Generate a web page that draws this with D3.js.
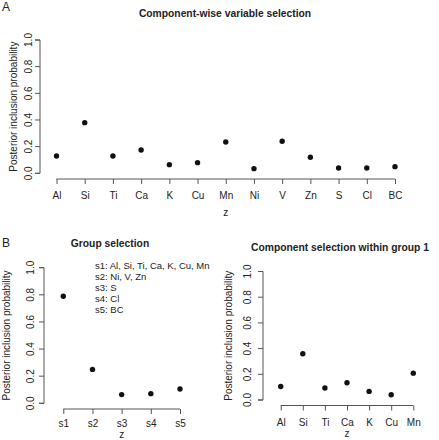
<!DOCTYPE html>
<html><head><meta charset="utf-8">
<script src="https://cdn.jsdelivr.net/npm/d3@7"></script>
<style>
body{margin:0;background:#fff;}
svg{display:block;}
text{font-family:"Liberation Sans",Arial,sans-serif;fill:#222;}
</style></head>
<body>
<svg id="c" width="439" height="440"></svg>
<script>
// Data
const compCats = ["Al","Si","Ti","Ca","K","Cu","Mn","Ni","V","Zn","S","Cl","BC"];
const compVals = [0.13,0.38,0.13,0.175,0.065,0.08,0.235,0.035,0.24,0.12,0.04,0.04,0.05];
const groupCats = ["s1","s2","s3","s4","s5"];
const groupVals = [0.79,0.25,0.064,0.071,0.106];
const g1Cats = ["Al","Si","Ti","Ca","K","Cu","Mn"];
const g1Vals = [0.105,0.36,0.093,0.134,0.067,0.041,0.209];
const yTicks = [0,0.2,0.4,0.6,0.8,1.0];
const groupLegend = ["s1: Al, Si, Ti, Ca, K, Cu, Mn","s2: Ni, V, Zn","s3: S","s4: Cl","s5: BC"];

const svg = d3.select("#c");
const axisCol = "#555";

function panel(o){
  const x = d3.scalePoint().domain(o.cats).range([o.x0,o.x1]).padding(0);
  const y = d3.scaleLinear().domain([0,1]).range([o.y0,o.y1]);
  // y axis
  const ya = svg.append("g").attr("transform",`translate(${o.ax},0)`)
    .call(d3.axisLeft(y).tickValues(yTicks).tickFormat(d3.format(".1f")).tickSize(5).tickPadding(7));
  ya.select(".domain").attr("stroke",axisCol).attr("d",`M-5,${o.y0}H0V${o.y1}H-5`);
  ya.selectAll(".tick").attr("transform","translate(0,0)");
  ya.selectAll(".tick line").attr("stroke",axisCol).attr("y1",d=>y(d)).attr("y2",d=>y(d)).attr("x2",-5);
  ya.selectAll(".tick text").each(function(d){
      d3.select(this).attr("x",null).attr("dy",null).attr("text-anchor","middle")
       .attr("font-size",10).attr("fill","#333")
       .attr("font-family","Liberation Sans, Arial, sans-serif")
       .attr("transform",`translate(${o.tlx-o.ax},${y(d)}) rotate(-90)`).attr("y",3.5);
    });
  // x axis
  const xa = svg.append("g").attr("transform",`translate(0,${o.ay})`)
    .call(d3.axisBottom(x).tickSize(5).tickPadding(8));
  xa.select(".domain").attr("stroke",axisCol).attr("d",`M${o.x0},0H${o.x1}`);
  xa.selectAll(".tick line").attr("stroke",axisCol);
  xa.selectAll(".tick text").attr("font-size",10).attr("fill","#333")
    .attr("font-family","Liberation Sans, Arial, sans-serif").attr("y",o.xly-o.ay).attr("dy",0);
  // points
  svg.append("g").selectAll("circle").data(o.vals).join("circle")
    .attr("cx",(d,i)=>x(o.cats[i])).attr("cy",d=>y(d)).attr("r",2.7).attr("fill","#111");
  // labels
  svg.append("text").attr("x",(o.x0+o.x1)/2).attr("y",o.zy).attr("text-anchor","middle")
    .attr("font-size",10).text("z");
  svg.append("text").attr("transform",`translate(${o.ylx},${(o.y0+o.y1)/2}) rotate(-90)`)
    .attr("text-anchor","middle").attr("font-size",10).attr("dy",3.5).text("Posterior inclusion probability");
  svg.append("text").attr("x",o.tx).attr("y",o.ty).attr("text-anchor","middle")
    .attr("font-size",10.3).attr("font-weight","bold").attr("fill","#111").text(o.title);
  return {x,y};
}

panel({cats:compCats, vals:compVals, x0:56.5, x1:395, y0:173.3, y1:40, ax:40, ay:179,
  tlx:28, ylx:13, xly:199, zy:216, tx:225, ty:17, title:"Component-wise variable selection"});
panel({cats:groupCats, vals:groupVals, x0:63.3, x1:180, y0:403.3, y1:267.7, ax:44, ay:409,
  tlx:30, ylx:6, xly:427, zy:438, tx:110, ty:247, title:"Group selection"});
panel({cats:g1Cats, vals:g1Vals, x0:280.7, x1:413.3, y0:400, y1:271.5, ax:263, ay:405.5,
  tlx:247, ylx:228.5, xly:425.5, zy:437, tx:340, ty:251, title:"Component selection within group 1"});

// legend in group panel
svg.append("g").selectAll("text").data(groupLegend).join("text")
  .attr("x",95).attr("y",(d,i)=>268.5+i*11.1).attr("font-size",9.5).text(d=>d);

// panel letters
svg.append("text").attr("x",2).attr("y",11).attr("font-size",12).text("A");
svg.append("text").attr("x",2).attr("y",247).attr("font-size",12).text("B");
</script>
</body></html>
